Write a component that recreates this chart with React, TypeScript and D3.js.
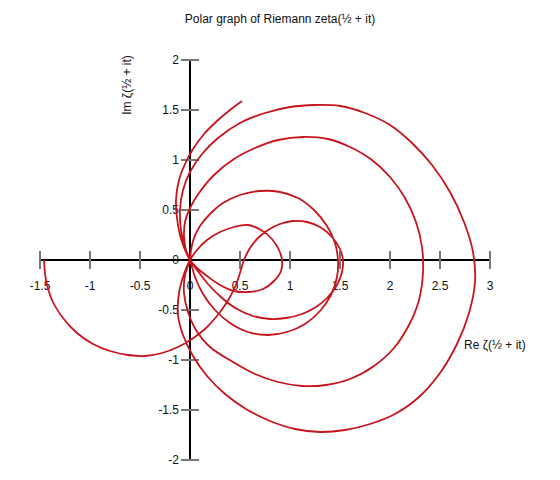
import React from "react";
import * as d3 from "d3";

// Tick values for both axes
const xTicks = [-1.5, -1, -0.5, 0, 0.5, 1, 1.5, 2, 2.5, 3];
const yTicks = [-2, -1.5, -1, -0.5, 0, 0.5, 1, 1.5, 2];

// ζ(½ + it) traced piece by piece as [Re, Im]; every piece ends at a zero of ζ
const startArc: [number, number][] = [
  [-1.46, 0], [-1.44, -0.2], [-1.38, -0.4], [-1.27, -0.58], [-1.13, -0.73], [-0.97, -0.84],
  [-0.8, -0.91], [-0.62, -0.95], [-0.45, -0.96], [-0.28, -0.93], [-0.12, -0.87], [0.02, -0.79],
  [0.15, -0.69], [0.27, -0.56], [0.37, -0.42], [0.45, -0.27], [0.5, -0.13], [0.54, 0],
  [0.6, 0.12], [0.68, 0.22], [0.78, 0.3], [0.9, 0.36], [1.03, 0.39], [1.17, 0.38],
  [1.3, 0.33], [1.42, 0.23], [1.5, 0.11], [1.53, 0], [1.52, -0.12], [1.47, -0.25],
  [1.38, -0.37], [1.26, -0.47], [1.12, -0.54], [0.96, -0.58], [0.8, -0.59], [0.63, -0.56],
  [0.47, -0.49], [0.32, -0.38], [0.18, -0.24], [0.07, -0.1], [0, 0],
];
const loop1: [number, number][] = [
  [-0.04, 0.1], [-0.06, 0.24], [-0.05, 0.38], [0, 0.52], [0.09, 0.67], [0.24, 0.85],
  [0.44, 1.01], [0.65, 1.12], [0.88, 1.2], [1.13, 1.23], [1.38, 1.21], [1.6, 1.13],
  [1.82, 1.0], [2.0, 0.83], [2.15, 0.62], [2.26, 0.38], [2.32, 0.13], [2.33, -0.12],
  [2.29, -0.4], [2.19, -0.65], [2.04, -0.88], [1.84, -1.06], [1.6, -1.19],
  [1.36, -1.25], [1.12, -1.26], [0.88, -1.22], [0.65, -1.14], [0.43, -1.02], [0.2, -0.87],
  [0.06, -0.7], [-0.02, -0.52], [-0.06, -0.33], [-0.05, -0.15], [0, 0],
];
const loop2: [number, number][] = [
  [0.01, 0.1], [0.04, 0.22], [0.1, 0.34], [0.2, 0.46], [0.33, 0.57], [0.5, 0.65],
  [0.7, 0.69], [0.9, 0.68], [1.08, 0.62], [1.24, 0.5], [1.37, 0.34], [1.45, 0.17],
  [1.48, 0], [1.47, -0.17], [1.41, -0.35], [1.3, -0.51], [1.15, -0.64], [0.97, -0.72],
  [0.78, -0.75], [0.58, -0.72], [0.4, -0.63], [0.25, -0.5], [0.13, -0.34], [0.05, -0.17],
  [0, 0],
];
const loop3: [number, number][] = [
  [-0.05, 0.12], [-0.09, 0.3], [-0.1, 0.5], [-0.07, 0.7], [0, 0.88], [0.12, 1.06],
  [0.28, 1.22], [0.5, 1.37], [0.75, 1.47], [1.0, 1.53], [1.25, 1.55], [1.5, 1.54],
  [1.75, 1.47], [2.0, 1.35], [2.22, 1.17], [2.42, 0.95], [2.6, 0.68], [2.74, 0.38],
  [2.83, 0.08], [2.85, -0.22], [2.79, -0.53], [2.67, -0.84], [2.5, -1.13],
  [2.29, -1.37], [2.05, -1.54], [1.8, -1.64], [1.55, -1.7], [1.3, -1.72], [1.05, -1.69],
  [0.8, -1.61], [0.56, -1.49], [0.35, -1.34], [0.17, -1.16], [0.03, -0.96], [-0.07, -0.75],
  [-0.12, -0.55], [-0.11, -0.33], [-0.06, -0.14], [0, 0],
];
const loop4: [number, number][] = [
  [0.07, 0.1], [0.17, 0.2], [0.3, 0.28], [0.44, 0.33], [0.58, 0.35], [0.71, 0.3],
  [0.82, 0.21], [0.89, 0.1], [0.92, 0], [0.91, -0.11], [0.84, -0.21], [0.73, -0.29],
  [0.59, -0.32], [0.44, -0.31], [0.3, -0.25], [0.17, -0.16], [0.07, -0.08], [0, 0],
];
const tailArc: [number, number][] = [
  [-0.05, 0.1], [-0.1, 0.25], [-0.13, 0.42], [-0.14, 0.6], [-0.11, 0.8], [-0.05, 0.96],
  [0.03, 1.11], [0.14, 1.26], [0.27, 1.39], [0.4, 1.5], [0.52, 1.59],
];

const curvePoints = [...startArc, ...loop1, ...loop2, ...loop3, ...loop4, ...tailArc];

const W = 560;
const H = 480;
const FONT = "'Liberation Sans', Arial, sans-serif";

export default function App() {
  const x = d3.scaleLinear().domain([-1.5, 3]).range([40, 490]);
  const y = d3.scaleLinear().domain([-2, 2]).range([460, 60]);

  const line = d3
    .line<[number, number]>()
    .x((d) => x(d[0]))
    .y((d) => y(d[1]))
    .curve(d3.curveCatmullRom.alpha(0.5));

  return (
    <svg
      width={W}
      height={H}
      style={{ position: "absolute", left: 0, top: 0, background: "#fff" }}
      fontFamily={FONT}
    >
      <rect width={W} height={H} fill="#fff" />
      <text x={280} y={23} fontSize={12} textAnchor="middle" fill="#111">
        Polar graph of Riemann zeta(½ + it)
      </text>

      {/* axes */}
      <line x1={x(-1.5)} x2={x(3)} y1={y(0)} y2={y(0)} stroke="#000" strokeWidth={2} />
      <line x1={x(0)} x2={x(0)} y1={y(2)} y2={y(-2)} stroke="#000" strokeWidth={2} />

      {xTicks.map((t) => (
        <g key={"x" + t}>
          {t !== 0 && (
            <line x1={x(t)} x2={x(t)} y1={y(0) - 9} y2={y(0) + 9} stroke="#777" strokeWidth={2} />
          )}
          <text x={x(t)} y={290} fontSize={12} textAnchor="middle" fill="#111">
            {String(t)}
          </text>
        </g>
      ))}
      {yTicks.map((t) => (
        <g key={"y" + t}>
          {t !== 0 && (
            <line x1={x(0) - 9} x2={x(0) + 9} y1={y(t)} y2={y(t)} stroke="#777" strokeWidth={2} />
          )}
          <text x={179} y={y(t) + 4} fontSize={12} textAnchor="end" fill="#111">
            {String(t)}
          </text>
        </g>
      ))}

      <path d={line(curvePoints) ?? ""} fill="none" stroke="#c8141c" strokeWidth={1.8} />

      <text
        transform="translate(131,85) rotate(-90)"
        fontSize={12}
        textAnchor="middle"
        fill="#111"
      >
        Im ζ(½ + it)
      </text>
      <text x={464} y={349} fontSize={12} fill="#111">
        Re ζ(½ + it)
      </text>
    </svg>
  );
}
